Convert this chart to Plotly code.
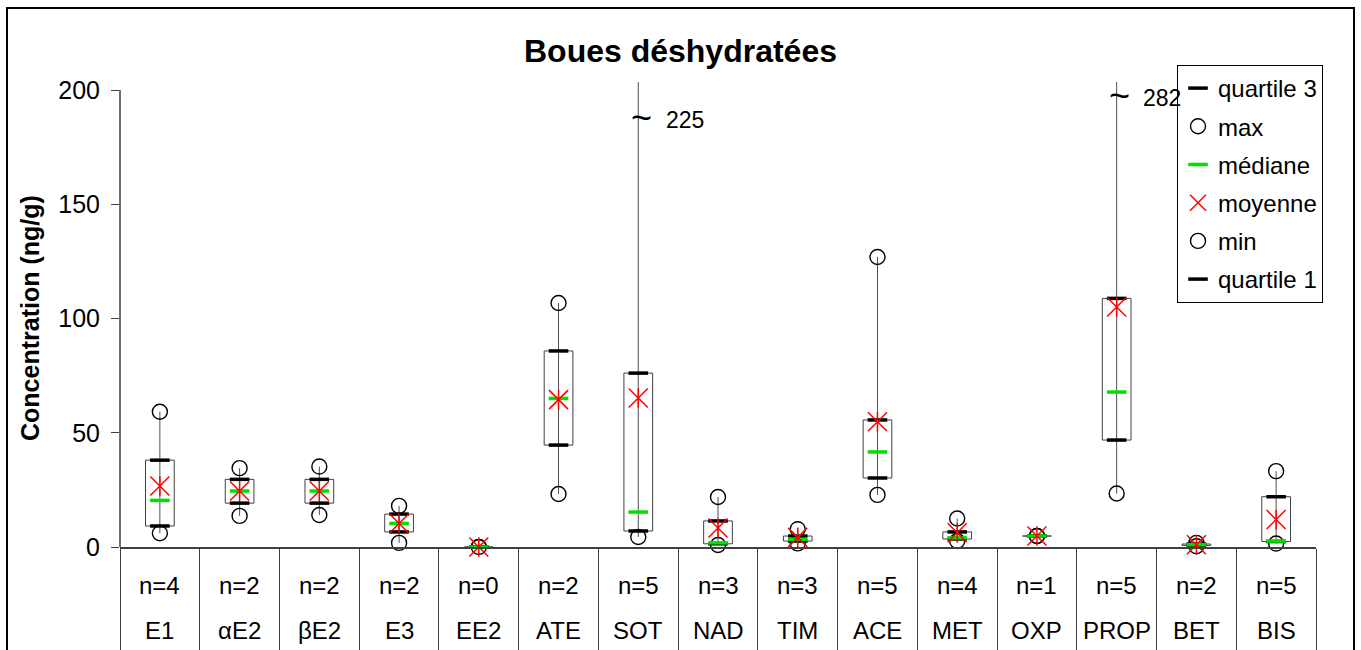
import plotly.graph_objects as go

# Statistiques par composé (ng/g)
categories = ["E1", "αE2", "βE2", "E3", "EE2", "ATE", "SOT", "NAD", "TIM",
              "ACE", "MET", "OXP", "PROP", "BET", "BIS"]
n_samples = [4, 2, 2, 2, 0, 2, 5, 3, 3, 5, 4, 1, 5, 2, 5]
minimum = [6.0, 13.6, 14.0, 1.8, 0.0, 23.2, 4.4, 0.9, 1.6, 22.8, 2.6, 4.8, 23.4, 0.3, 1.5]
quartile1 = [9.2, 19.2, 19.2, 6.6, 0.0, 44.6, 7.0, 1.4, 2.6, 30.2, 3.5, 4.8, 46.8, 0.7, 2.4]
mediane = [20.4, 24.5, 24.5, 10.3, 0.0, 65.0, 15.3, 1.8, 3.4, 41.6, 4.0, 4.8, 67.8, 1.0, 2.6]
moyenne = [26.7, 24.5, 24.5, 10.3, 0.0, 64.5, 65.2, 8.3, 4.2, 54.8, 6.2, 4.8, 105.0, 1.0, 12.0]
quartile3 = [38.0, 29.6, 29.6, 14.4, 0.0, 85.8, 76.1, 11.4, 4.8, 55.6, 6.6, 4.8, 108.8, 1.3, 22.0]
maximum = [59.2, 34.5, 35.2, 18.0, 0.0, 106.8, 225.0, 21.9, 7.8, 126.9, 12.5, 4.8, 282.0, 1.8, 33.2]

y_ticks = [0, 50, 100, 150, 200]
y_top = 203.5

FONT = "Liberation Sans, Arial, sans-serif"
W, H = 1361, 650
ML, MR, MT, MB = 120, 45, 82, 103
PW, PH = W - ML - MR, H - MT - MB

GREEN = "#00E000"
RED = "#FF0000"
AXIS = "#404040"


def px_to_paper_x(px):
    return (px - ML) / PW


def px_to_paper_y(py):
    return (H - MB - py) / PH


fig = go.Figure()

# Boîtes (quartile 1 -> quartile 3)
fig.add_trace(go.Bar(
    x=categories, base=quartile1,
    y=[q3 - q1 for q1, q3 in zip(quartile1, quartile3)],
    width=0.36, marker=dict(color="white", line=dict(color=AXIS, width=1)),
    showlegend=False, hoverinfo="skip",
))

# Moustaches min -> max
wx, wy = [], []
for c, lo, hi in zip(categories, minimum, maximum):
    wx += [c, c, None]
    wy += [lo, hi, None]
fig.add_trace(go.Scatter(x=wx, y=wy, mode="lines",
                         line=dict(color="#505050", width=1),
                         showlegend=False, hoverinfo="skip"))

circle = dict(symbol="circle-open", size=15, color="black", line=dict(width=1.4))
qbar = dict(symbol="line-ew-open", size=14, color="black", line=dict(width=3.5))

fig.add_trace(go.Scatter(x=categories, y=maximum, mode="markers", name="max",
                         marker=circle, cliponaxis=True, legendrank=2,
                         legendgroup="max"))
fig.add_trace(go.Scatter(x=categories, y=minimum, mode="markers", name="min",
                         marker=circle, cliponaxis=False, legendrank=5,
                         legendgroup="min"))
fig.add_trace(go.Scatter(x=categories, y=quartile1, mode="markers", name="quartile 1",
                         marker=qbar, cliponaxis=False, legendrank=6,
                         legendgroup="q1"))
fig.add_trace(go.Scatter(x=categories, y=quartile3, mode="markers", name="quartile 3",
                         marker=qbar, cliponaxis=False, legendrank=1,
                         legendgroup="q3"))
fig.add_trace(go.Scatter(x=categories, y=mediane, mode="markers", name="médiane",
                         marker=dict(symbol="line-ew-open", size=14, color=GREEN,
                                     line=dict(width=3.5)),
                         cliponaxis=False, legendrank=3, legendgroup="med"))
# Moyenne : astérisque rouge (X + trait vertical)
fig.add_trace(go.Scatter(x=categories, y=moyenne, mode="markers", name="moyenne",
                         marker=dict(symbol="x-thin-open", size=19, color=RED,
                                     line=dict(width=1.5)),
                         cliponaxis=False, legendrank=4, legendgroup="moy"))
fig.add_trace(go.Scatter(x=categories, y=moyenne, mode="markers", showlegend=False,
                         marker=dict(symbol="line-ns-open", size=14, color=RED,
                                     line=dict(width=1.5)),
                         cliponaxis=False, legendgroup="moy", hoverinfo="skip"))

annotations = []
# Tableau sous l'axe : effectifs et noms des composés
for c, n in zip(categories, n_samples):
    annotations.append(dict(x=c, xref="x", y=px_to_paper_y(585), yref="paper",
                            yanchor="middle", text=f"n={n}", showarrow=False,
                            font=dict(family=FONT, size=24, color="black")))
    annotations.append(dict(x=c, xref="x", y=px_to_paper_y(630), yref="paper",
                            yanchor="middle", text=c, showarrow=False,
                            font=dict(family=FONT, size=24, color="black")))

# Valeurs maximales hors échelle
label_pos = {"SOT": (188.0, 26), "PROP": (197.5, 24)}
for c, mx in zip(categories, maximum):
    if mx > y_top and c in label_pos:
        ly, shift = label_pos[c]
        annotations.append(dict(x=c, xref="x", y=ly, yref="y", text="~",
                                showarrow=False, xshift=3,
                                font=dict(family=FONT, size=36, color="black")))
        annotations.append(dict(x=c, xref="x", y=ly - 1, yref="y", text=f"{mx:.0f}",
                                showarrow=False, xanchor="left", xshift=shift,
                                font=dict(family=FONT, size=23, color="black")))

annotations.append(dict(x=px_to_paper_x(30), xref="paper", y=px_to_paper_y(318), yref="paper",
                        xanchor="center", yanchor="middle",
                        text="<b>Concentration (ng/g)</b>", textangle=-90, showarrow=False,
                        font=dict(family=FONT, size=25, color="black")))

shapes = [
    # cadre extérieur
    dict(type="rect", xref="paper", yref="paper",
         x0=px_to_paper_x(7), x1=px_to_paper_x(1354),
         y0=px_to_paper_y(700), y1=px_to_paper_y(8),
         line=dict(color="black", width=2), fillcolor="rgba(0,0,0,0)", layer="below"),
    # axe vertical, de 0 jusqu'à la dernière graduation
    dict(type="line", xref="paper", yref="y", x0=0, x1=0, y0=0, y1=y_ticks[-1],
         line=dict(color=AXIS, width=1.5), layer="above"),
]

fig.update_layout(
    width=W, height=H, autosize=False,
    margin=dict(l=ML, r=MR, t=MT, b=MB, autoexpand=False),
    paper_bgcolor="white", plot_bgcolor="white",
    barmode="overlay",
    title=dict(text="<b>Boues déshydratées</b>", xref="container", x=0.5, xanchor="center",
               yref="container", y=1 - 51 / H, yanchor="middle", automargin=False,
               font=dict(family=FONT, size=32, color="black")),
    xaxis=dict(type="category", categoryorder="array", categoryarray=categories,
               range=[-0.5, len(categories) - 0.5], automargin=False,
               showline=True, linecolor=AXIS, linewidth=1.5,
               ticks="outside", tickson="boundaries", ticklen=110, tickcolor=AXIS,
               tickwidth=1, showticklabels=False, showgrid=False, zeroline=False),
    yaxis=dict(range=[0, y_top], tickvals=y_ticks, ticks="outside", ticklen=8,
               tickcolor=AXIS, tickwidth=1.2, automargin=False,
               showline=False, showgrid=False, zeroline=False,
               ticklabelstandoff=6,
               tickfont=dict(family=FONT, size=25, color="black")),
    legend=dict(x=px_to_paper_x(1177), y=px_to_paper_y(65), xanchor="left", yanchor="top",
                bgcolor="white", bordercolor="black", borderwidth=1,
                font=dict(family=FONT, size=24, color="black"),
                tracegroupgap=4, itemwidth=30),
    annotations=annotations,
    shapes=shapes,
    showlegend=True,
)

fig.write_html("out.html")
